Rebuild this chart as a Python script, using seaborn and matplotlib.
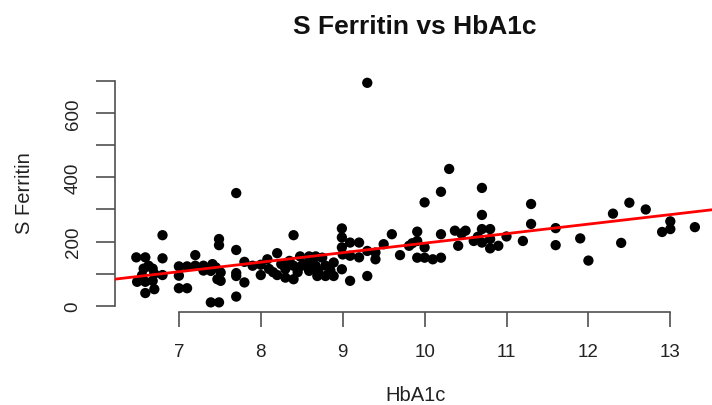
import matplotlib
matplotlib.use("Agg")
import matplotlib.pyplot as plt
import seaborn as sns
import pandas as pd
import numpy as np

# HbA1c values
hba1c = [
    6.48, 6.59, 6.80, 6.80, 6.57, 6.68, 6.63, 6.49, 6.59, 6.68, 6.59, 6.70, 6.80, 6.70, 6.55,
    7.00, 7.00, 7.00, 7.10, 7.10, 7.20, 7.20, 7.30, 7.39, 7.47, 7.39, 7.49, 7.49, 7.49, 7.51, 7.51, 7.41, 7.45, 7.30,
    7.70, 7.70, 7.70, 7.70, 7.80, 7.70, 7.80, 7.90, 8.00, 8.00,
    8.08, 8.10, 8.20, 8.20, 8.30, 8.30, 8.40, 8.40, 8.40, 8.48, 8.50, 8.59, 8.59, 8.67, 8.67, 8.69,
    8.79, 8.79, 8.89, 8.89, 8.99, 8.60, 8.75, 8.55, 8.35, 8.25, 8.45, 8.70, 8.85, 8.15,
    8.99, 8.99, 8.99, 9.09, 9.20, 9.09, 9.20, 9.09, 9.30, 9.30, 9.30, 9.40, 9.40, 9.50, 9.00,
    9.60, 9.70, 9.81, 9.91, 9.91, 9.91, 10.00, 10.10, 10.20, 10.00, 10.00, 10.20, 10.20, 10.30, 9.85,
    10.37, 10.50, 10.41, 10.60, 10.70, 10.80, 10.70, 10.80, 10.90, 10.70, 10.70, 10.80, 10.45, 10.65,
    11.00, 11.20, 11.30, 11.30, 11.60, 11.60, 11.90, 12.00, 12.30, 12.40, 12.50, 12.70, 12.90, 13.00, 13.00, 13.30,
]

# S Ferritin values
ferritin = [
    151, 151, 220, 148, 116, 116, 125, 75, 75, 78, 40, 52, 96, 100, 95,
    123, 94, 55, 55, 123, 158, 125, 125, 109, 83, 11, 11, 208, 189, 104, 78, 130, 120, 110,
    351, 174, 102, 93, 73, 29, 137, 125, 96, 128,
    145, 115, 164, 96, 115, 88, 220, 125, 83, 154, 125, 154, 109, 154, 125, 93,
    125, 93, 135, 93, 114, 140, 150, 130, 140, 130, 105, 110, 110, 105,
    241, 213, 182, 197, 197, 156, 151, 78, 694, 93, 171, 166, 145, 192, 160,
    223, 158, 187, 231, 202, 150, 150, 145, 150, 182, 322, 355, 223, 426, 195,
    234, 234, 187, 202, 239, 239, 197, 179, 187, 283, 367, 208, 225, 215,
    216, 202, 317, 255, 242, 189, 210, 141, 287, 196, 321, 300, 230, 263, 239, 245,
]

x_ticks = [7, 8, 9, 10, 11, 12, 13]
y_ticks = [0, 100, 200, 300, 400, 500, 600, 700]
y_tick_labels = ["0", "", "200", "", "400", "", "600", ""]

df = pd.DataFrame({"HbA1c": hba1c, "S Ferritin": ferritin})

sns.set_style("white")
plt.rcParams["font.family"] = ["Liberation Sans", "DejaVu Sans"]

fig = plt.figure(figsize=(7.12, 4.06), dpi=100)
ax_bottom_px, ax_top_px = 312.5, 75
ax_h = ax_bottom_px - ax_top_px
ax = fig.add_axes([115 / 712, (406 - ax_bottom_px) / 406, (717 - 115) / 712, ax_h / 406])

sns.regplot(
    data=df, x="HbA1c", y="S Ferritin", ax=ax, ci=None, truncate=False,
    scatter_kws=dict(s=55, color="black", edgecolor="none", alpha=1, zorder=2),
    line_kws=dict(color="#ff0000", lw=2, zorder=3),
)

ax.set_xlim(6.22, 13.57)
ax.set_ylim(-17.4, 721.4)

axis_col = "#505050"
for side in ["top", "right"]:
    ax.spines[side].set_visible(False)
ax.spines["left"].set_bounds(0, 700)
ax.spines["bottom"].set_bounds(7, 13)
for side in ["left", "bottom"]:
    ax.spines[side].set_color(axis_col)
    ax.spines[side].set_linewidth(1.2)

ax.set_xticks(x_ticks)
ax.set_xticklabels([str(t) for t in x_ticks])
ax.set_yticks(y_ticks)
ax.set_yticklabels(y_tick_labels, rotation=90, va="center")

ax.tick_params(axis="x", bottom=True, length=11, width=1.2, color=axis_col, pad=12, labelsize=13.5, labelcolor="#222222", direction="out")
ax.tick_params(axis="y", left=True, length=14, width=1.2, color=axis_col, pad=10, labelsize=13.5, labelcolor="#222222", direction="out")

ax.set_xlabel("HbA1c", fontsize=14.5, color="#222222", va="center")
ax.xaxis.set_label_coords(0.5 * (416 - 115) / 301, -(396 - ax_bottom_px) / ax_h)
ax.set_ylabel("S Ferritin", fontsize=14.5, color="#222222", va="center")
ax.yaxis.set_label_coords(-(115 - 25) / 602, (ax_bottom_px - 193) / ax_h)

fig.text(0.583, 1 - 27 / 406, "S Ferritin vs HbA1c", ha="center", va="center",
         fontsize=19, fontweight="bold", color="#111111")

fig.savefig("out.png", dpi=100)
